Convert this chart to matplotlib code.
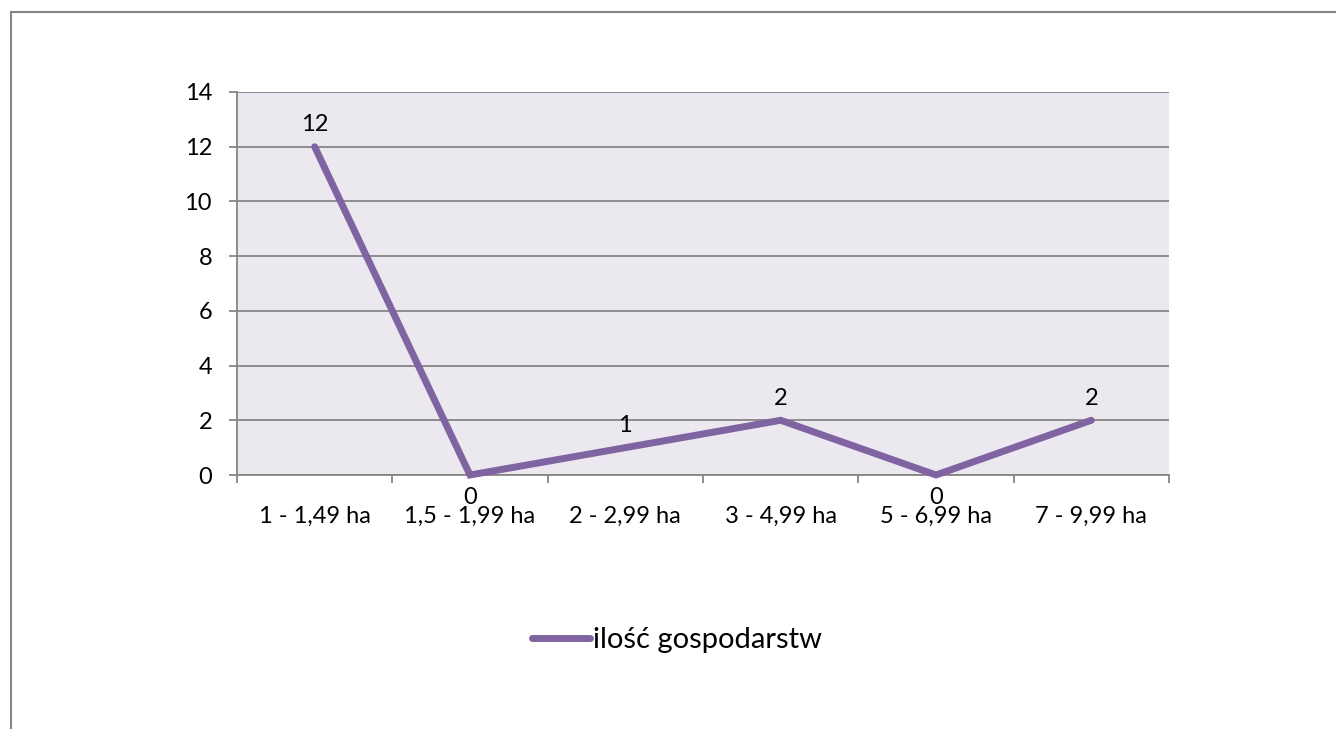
import matplotlib
matplotlib.use("Agg")
import matplotlib.pyplot as plt
from matplotlib.lines import Line2D
import numpy as np

categories = ["1 - 1,49 ha", "1,5 - 1,99 ha", "2 - 2,99 ha", "3 - 4,99 ha", "5 - 6,99 ha", "7 - 9,99 ha"]
values = [12, 0, 1, 2, 0, 2]
series_name = "ilość gospodarstw"
yticks = [0, 2, 4, 6, 8, 10, 12, 14]

plt.rcParams['font.family'] = ['Lato', 'DejaVu Sans']

W, H = 1336, 729
fig = plt.figure(figsize=(W / 100, H / 100), dpi=100)
fig.patch.set_facecolor("white")

L, R, T, B = 237, 1169, 92, 475
ax = fig.add_axes([L / W, 1 - B / H, (R - L) / W, (B - T) / H])
ax.set_facecolor("#EBE9EF")

line_color = "#8064A2"
grid_color = "#868686"
FS = 17
x = np.arange(len(categories))
ax.plot(x, values, color=line_color, lw=5.0, solid_joinstyle="miter", solid_capstyle="round", zorder=3, clip_on=False)

ax.set_xlim(-0.5, len(categories) - 0.5)
ax.set_ylim(0, 14)
ax.set_yticks(yticks)
ax.set_yticklabels([str(v) for v in yticks], fontsize=FS)
ax.yaxis.grid(True, color=grid_color, lw=1.3)
ax.set_axisbelow(True)

ax.set_xticks(np.arange(-0.5, len(categories), 1.0))
ax.set_xticklabels([])
ax.set_xticks(x, minor=True)
ax.set_xticklabels(categories, minor=True, fontsize=FS)
ax.tick_params(axis="x", which="major", length=6, width=1.3, color=grid_color, direction="out")
ax.tick_params(axis="x", which="minor", length=0, pad=22)
ax.tick_params(axis="y", length=6, width=1.3, color=grid_color, pad=12)

for s in ["top", "right"]:
    ax.spines[s].set_visible(False)
for s in ["left", "bottom"]:
    ax.spines[s].set_color(grid_color)
    ax.spines[s].set_linewidth(1.3)

for xi, v in zip(x, values):
    dy = -22 if v == 0 else 22
    ax.annotate(str(v), (xi, v), xytext=(0, dy), textcoords="offset pixels",
                ha="center", va="center", fontsize=FS, zorder=4)

handle = Line2D([], [], color=line_color, lw=5.0, solid_capstyle="round")
fig.legend([handle], [series_name], loc="center", bbox_to_anchor=(677 / W, 1 - 640 / H),
           frameon=False, fontsize=21, handlelength=2.0, handletextpad=0.1)

# chart border (top and left)
fig.add_artist(Line2D([11 / W, 1.0], [1 - 12 / H, 1 - 12 / H], transform=fig.transFigure, color=grid_color, lw=1.5))
fig.add_artist(Line2D([11 / W, 11 / W], [1 - 12 / H, 0.0], transform=fig.transFigure, color=grid_color, lw=1.5))

fig.savefig("out.png", dpi=100)
